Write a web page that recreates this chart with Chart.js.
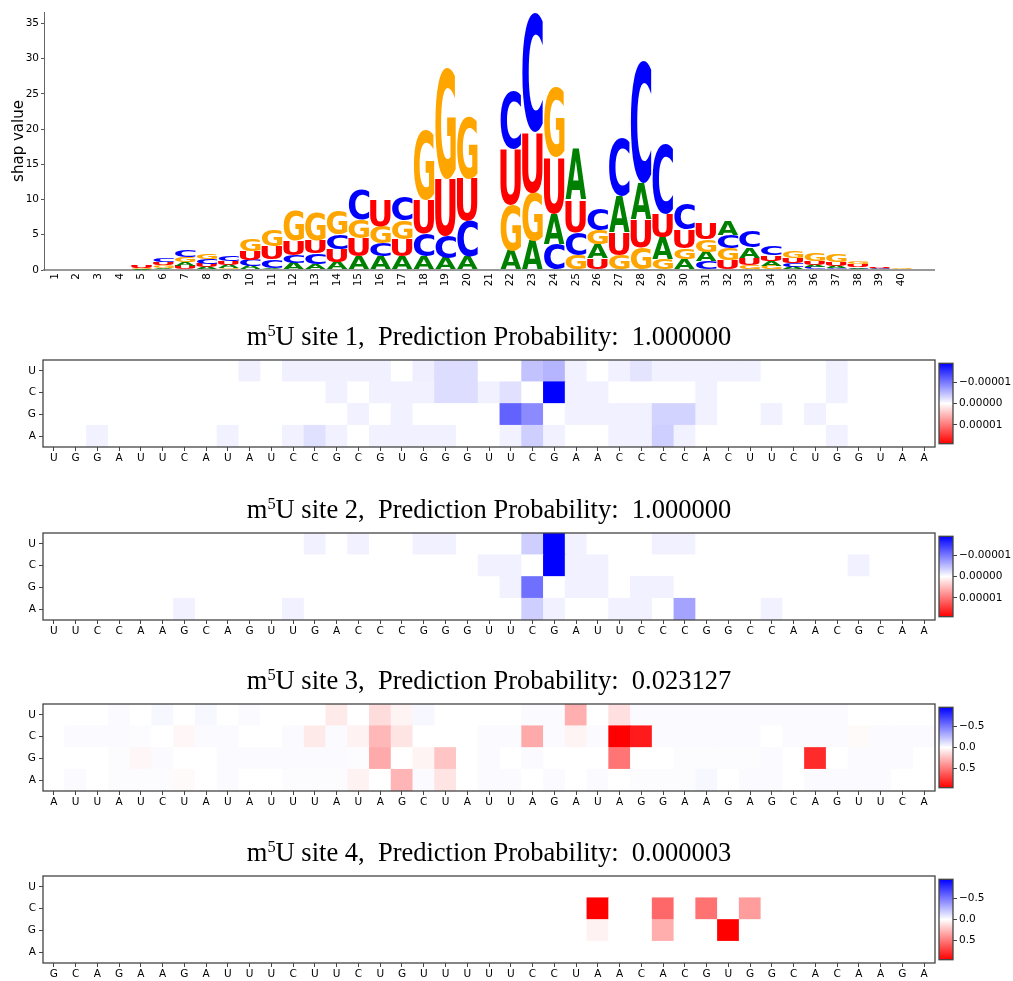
<!DOCTYPE html>
<html lang="en">

<head>
    <meta charset="UTF-8" />
    <title>m5U site SHAP</title>
    <script src="https://cdn.jsdelivr.net/npm/chart.js"></script>
    <style>
        body { margin: 0; background: #fff; }
        #wrap { position: relative; width: 1013px; height: 981px; }
        canvas { position: absolute; }
    </style>
</head>

<body>
    <div id="wrap">
        <canvas id="logo"></canvas>
        <canvas id="hm1"></canvas><canvas id="cb1"></canvas>
        <canvas id="hm2"></canvas><canvas id="cb2"></canvas>
        <canvas id="hm3"></canvas><canvas id="cb3"></canvas>
        <canvas id="hm4"></canvas><canvas id="cb4"></canvas>
    </div>

    <script>
        // ---- sequence logo (shap value per nucleotide, positions 1..41) ----
        var posLabels = ['1', '2', '3', '4', '5', '6', '7', '8', '9', '10', '11', '12', '13', '14', '15', '16', '17', '18', '19', '20',
            '21', '22', '23', '24', '25', '26', '27', '28', '29', '30', '31', '32', '33', '34', '35', '36', '37', '38', '39', '40', ''];
        var logoTicks = [0, 5, 10, 15, 20, 25, 30, 35];
        var logoA = [.02, .06, .05, .02, .08, .30, .60, .40, .45, .55, .30, .95, .85, 1.10, 1.90, 1.90, 1.90, 1.90, 1.65, 1.90,
            0, 2.80, 4.15, 4.35, 7.30, 1.95, 5.30, 5.20, 3.20, 1.55, 1.40, 2.10, 1.55, 0.70, 0.40, 0.38, 0.32, 0.25, 0.10, 0.03, 0];
        var logoC = [.02, .03, .06, .02, .05, .55, .95, .70, .75, .90, 1.20, 1.20, 1.50, 2.00, 4.15, 1.95, 3.40, 3.30, 3.20, 5.10,
            0, 8.25, 17.00, 3.70, 3.30, 3.00, 8.20, 17.30, 9.90, 3.70, 1.20, 1.90, 2.30, 1.30, 0.55, 0.35, 0.30, 0.20, 0.15, 0.03, 0];
        var logoG = [.03, .04, .02, .03, .18, .35, .65, .80, .30, 1.75, 2.25, 4.25, 4.00, 3.40, 2.75, 2.40, 2.65, 10.00, 15.80, 8.90,
            0, 6.50, 6.85, 9.90, 2.10, 2.00, 2.10, 3.20, 1.50, 1.60, 1.75, 1.65, 0.70, 0.60, 0.85, 1.05, 1.20, 0.40, 0.10, 0.08, 0];
        var logoU = [.02, .03, .04, .03, .35, .45, .55, .50, .55, 1.25, 1.85, 2.00, 1.80, 1.90, 2.60, 3.70, 2.45, 4.70, 8.20, 6.00,
            0, 7.90, 8.60, 8.00, 4.60, 1.65, 3.20, 4.00, 3.30, 2.55, 2.20, 1.40, 0.95, 0.80, 0.75, 0.60, 0.50, 0.35, 0.20, 0.05, 0];

        // ---- heatmaps: sequences and shap values per row ----
        var seq1 = 'UGGAUUCAUAUCCGCGUGGGUUCGAACCCCACUUCUGGUAA'.split('');
        var seq2 = 'UUCCAAGCAGUUGACCCGGGUUCGAUUCCCGGCCAACGCAA'.split('');
        var seq3 = 'AUUAUCUAUAUUUAUAGCUAUUAGAUAGGAAGAGCAGUUCA'.split('');
        var seq4 = 'GCAGAAGAUUUCUUCUGUUUUUCCUAACACGUGGCACAAGA'.split('');

        // site 1 and 2 values are in units of 1e-6
        var hm1U = [0, 0, 0, 0, 0, 0, 0, 0, 0, -1.1, 0, -1.1, -1.1, -1.1, -1.1, -1.1, 0, -1.2, -2.5, -2.5,
            0, 0, -4.5, -5.5, -1.0, 0, -1.0, -2.0, -1.0, -1.0, -1.0, -1.0, -1.0, 0, 0, 0, -1.0, 0, 0, 0, 0];
        var hm1C = [0, 0, 0, 0, 0, 0, 0, 0, 0, 0, 0, 0, 0, -1.0, 0, -1.0, -1.0, -1.0, -2.5, -2.5,
            -1.0, -2.2, 0, -19, -1.0, -1.0, 0, 0, 0, 0, -1.0, 0, 0, 0, 0, 0, -1.0, 0, 0, 0, 0];
        var hm1G = [0, 0, 0, 0, 0, 0, 0, 0, 0, 0, 0, 0, 0, 0, -1.0, 0, -1.0, 0, 0, 0,
            0, -11.5, -8.5, 0, -1.0, -1.0, -1.0, -1.0, -3.2, -3.2, -1.0, 0, 0, -1.0, 0, -1.0, 0, 0, 0, 0, 0];
        var hm1A = [0, 0, -1.0, 0, 0, 0, 0, 0, -1.0, 0, 0, -1.0, -2.3, -1.0, 0, -1.0, -1.0, -1.0, -1.0, 0,
            0, -1.0, -3.5, -1.0, 0, 0, -1.0, -1.0, -3.5, -1.0, 0, 0, 0, 0, 0, 0, -1.0, 0, 0, 0, 0];

        var hm2U = [0, 0, 0, 0, 0, 0, 0, 0, 0, 0, 0, 0, -1.0, 0, -1.0, 0, 0, -1.0, -1.0, 0,
            0, 0, -3.5, -19, -1.0, 0, 0, 0, -1.0, -1.0, 0, 0, 0, 0, 0, 0, 0, 0, 0, 0, 0];
        var hm2C = [0, 0, 0, 0, 0, 0, 0, 0, 0, 0, 0, 0, 0, 0, 0, 0, 0, 0, 0, 0,
            -1.0, -1.0, 0, -19, -1.0, -1.0, 0, 0, 0, 0, 0, 0, 0, 0, 0, 0, 0, -1.0, 0, 0, 0];
        var hm2G = [0, 0, 0, 0, 0, 0, 0, 0, 0, 0, 0, 0, 0, 0, 0, 0, 0, 0, 0, 0,
            0, -1.0, -10.5, 0, -1.0, -1.0, 0, -1.0, -1.0, 0, 0, 0, 0, 0, 0, 0, 0, 0, 0, 0, 0];
        var hm2A = [0, 0, 0, 0, 0, 0, -1.0, 0, 0, 0, 0, -1.0, 0, 0, 0, 0, 0, 0, 0, 0,
            0, 0, -3.5, -1.0, 0, 0, -1.0, -1.0, 0, -6.7, 0, 0, 0, -1.0, 0, 0, 0, 0, 0, 0, 0];

        var hm3U = [0, 0, 0, -0.02, 0, -0.03, 0, -0.03, 0, -0.02, 0, 0, 0, 0.08, 0, 0.13, 0.04, -0.03, 0, 0,
            0, 0, -0.02, -0.02, 0.30, 0, 0.12, -0.02, -0.02, -0.02, -0.02, -0.02, -0.02, -0.02, -0.02, -0.02, -0.02, 0, 0, 0, 0];
        var hm3C = [0, -0.02, -0.02, -0.02, -0.01, 0, 0.03, -0.02, -0.02, 0, 0, -0.02, 0.08, -0.02, 0.05, 0.27, 0.10, 0, 0, 0,
            -0.02, -0.02, 0.32, -0.02, 0.04, -0.02, 0.96, 0.86, -0.02, -0.02, -0.02, -0.02, -0.02, 0, -0.02, -0.02, -0.02, 0.02, -0.02, -0.02, -0.02];
        var hm3G = [0, 0, 0, -0.01, 0.03, -0.02, 0, 0, -0.02, -0.02, -0.02, -0.02, -0.02, -0.02, -0.01, 0.32, 0, 0.04, 0.22, 0,
            -0.02, 0, -0.02, 0, 0, 0, 0.52, 0, 0, -0.01, -0.01, -0.01, -0.01, -0.02, 0, 0.80, 0, -0.02, -0.02, -0.02, 0];
        var hm3A = [0, -0.02, 0, -0.01, -0.01, -0.01, 0.02, 0, -0.02, 0, 0, -0.01, -0.01, -0.01, 0.05, 0, 0.28, -0.02, 0.10, 0,
            -0.02, -0.02, 0, -0.02, 0, -0.02, 0, -0.01, -0.01, -0.01, -0.03, 0, -0.02, -0.02, 0, -0.02, -0.02, -0.02, -0.02, 0, 0];

        var hm4U = [0, 0, 0, 0, 0, 0, 0, 0, 0, 0, 0, 0, 0, 0, 0, 0, 0, 0, 0, 0,
            0, 0, 0, 0, 0, 0, 0, 0, 0, 0, 0, 0, 0, 0, 0, 0, 0, 0, 0, 0, 0];
        var hm4C = [0, 0, 0, 0, 0, 0, 0, 0, 0, 0, 0, 0, 0, 0, 0, 0, 0, 0, 0, 0,
            0, 0, 0, 0, 0, 0.96, 0, 0, 0.57, 0, 0.53, 0, 0.37, 0, 0, 0, 0, 0, 0, 0, 0];
        var hm4G = [0, 0, 0, 0, 0, 0, 0, 0, 0, 0, 0, 0, 0, 0, 0, 0, 0, 0, 0, 0,
            0, 0, 0, 0, 0, 0.05, 0, 0, 0.31, 0, 0, 0.96, 0, 0, 0, 0, 0, 0, 0, 0, 0];
        var hm4A = [0, 0, 0, 0, 0, 0, 0, 0, 0, 0, 0, 0, 0, 0, 0, 0, 0, 0, 0, 0,
            0, 0, 0, 0, 0, 0, 0, 0, 0, 0, 0, 0, 0, 0, 0, 0, 0, 0, 0, 0, 0];

        var probs = ['1.000000', '1.000000', '0.023127', '0.000003'];

        Chart.defaults.font.family = '"DejaVu Sans"';
        Chart.defaults.color = '#000';
        Chart.defaults.animation = false;
        Chart.defaults.responsive = false;
        Chart.defaults.devicePixelRatio = 1;
        Chart.defaults.events = [];
        Chart.defaults.plugins.legend.display = false;
        Chart.defaults.plugins.tooltip.enabled = false;

        var letterColors = { A: '#008000', C: '#0000ff', G: '#ffa500', U: '#ff0000' };

        function place(id, left, top, w, h) {
            var c = document.getElementById(id);
            c.width = w;
            c.height = h;
            c.style.left = left + 'px';
            c.style.top = top + 'px';
            return c;
        }

        // glyph stretched to fill the bar rectangle
        function drawLetter(ctx, letter, color, x, y, w, h) {
            ctx.save();
            ctx.font = 'bold 100px "DejaVu Sans"';
            ctx.textAlign = 'left';
            ctx.textBaseline = 'alphabetic';
            var m = ctx.measureText(letter);
            var gw = m.actualBoundingBoxLeft + m.actualBoundingBoxRight;
            var gh = m.actualBoundingBoxAscent + m.actualBoundingBoxDescent;
            ctx.translate(x, y);
            ctx.scale(w / gw, h / gh);
            ctx.fillStyle = color;
            ctx.fillText(letter, m.actualBoundingBoxLeft, m.actualBoundingBoxAscent);
            ctx.restore();
        }

        var lettersPlugin = {
            id: 'letters',
            afterDatasetsDraw: function (chart) {
                var ctx = chart.ctx;
                chart.data.datasets.forEach(function (ds, i) {
                    chart.getDatasetMeta(i).data.forEach(function (bar, j) {
                        var p = bar.getProps(['x', 'y', 'base', 'width'], true);
                        var h = p.base - p.y;
                        if (h <= 0.05) return;
                        drawLetter(ctx, ds.letters[j], letterColors[ds.letters[j]], p.x - p.width / 2, p.y, p.width, h);
                    });
                });
            }
        };

        function drawLogo() {
            var canvas = place('logo', 0, 0, 960, 300);
            var byLetter = { A: logoA, C: logoC, G: logoG, U: logoU };
            var ranks = [[], [], [], []];
            posLabels.forEach(function (lab, j) {
                var col = ['A', 'C', 'G', 'U'].map(function (l) { return { l: l, v: byLetter[l][j] }; });
                col.sort(function (a, b) { return a.v - b.v; });
                col.forEach(function (c, k) { ranks[k].push(c); });
            });
            var datasets = ranks.map(function (r) {
                return {
                    data: r.map(function (c) { return c.v; }),
                    letters: r.map(function (c) { return c.l; }),
                    backgroundColor: 'rgba(0,0,0,0)',
                    borderWidth: 0,
                    barPercentage: 0.95,
                    categoryPercentage: 1
                };
            });
            new Chart(canvas, {
                type: 'bar',
                data: { labels: posLabels, datasets: datasets },
                options: {
                    layout: { padding: { top: 12, right: 26 } },
                    scales: {
                        x: {
                            stacked: true,
                            grid: { display: false, drawTicks: false },
                            border: { color: '#999', width: 2 },
                            ticks: { autoSkip: false, minRotation: 90, maxRotation: 90, padding: 3, font: { size: 10.5 } },
                            afterFit: function (s) { s.height = 30; }
                        },
                        y: {
                            stacked: true,
                            min: 0,
                            max: 36.6,
                            afterBuildTicks: function (s) {
                                s.ticks = logoTicks.map(function (v) { return { value: v }; });
                            },
                            ticks: { padding: 2, font: { size: 10.5 } },
                            grid: { drawOnChartArea: false, tickLength: 3, color: '#555' },
                            border: { color: '#666', width: 1 },
                            title: { display: true, text: 'shap value', font: { size: 15 }, padding: { top: 10, bottom: 0 } },
                            afterFit: function (s) { s.width = 44; }
                        }
                    }
                },
                plugins: [lettersPlugin]
            });
        }

        function bwr(v, vmax) {
            var t = Math.max(-1, Math.min(1, v / vmax));
            var c;
            if (t < 0) {
                c = Math.round(255 * (1 + t));
                return 'rgb(' + c + ',' + c + ',255)';
            }
            c = Math.round(255 * (1 - t));
            return 'rgb(255,' + c + ',' + c + ')';
        }

        var framePlugin = {
            id: 'frame',
            afterDraw: function (chart) {
                var a = chart.chartArea;
                var ctx = chart.ctx;
                ctx.save();
                ctx.strokeStyle = '#444';
                ctx.lineWidth = 1.3;
                ctx.strokeRect(a.left, a.top, a.right - a.left, a.bottom - a.top);
                ctx.restore();
            }
        };

        // title "m^5U site n, ..." with a raised 5
        var titlePlugin = {
            id: 'siteTitle',
            afterDraw: function (chart, args, opts) {
                if (!opts.parts) return;
                var a = chart.chartArea;
                var ctx = chart.ctx;
                var size = 26.5;
                ctx.save();
                ctx.fillStyle = '#000';
                ctx.textAlign = 'left';
                ctx.textBaseline = 'alphabetic';
                var total = 0;
                opts.parts.forEach(function (p) {
                    ctx.font = (size * p.scale) + 'px "Liberation Serif"';
                    p.w = ctx.measureText(p.text).width;
                    total += p.w;
                });
                var x = (a.left + a.right) / 2 - total / 2;
                var y = a.top - 15;
                opts.parts.forEach(function (p) {
                    ctx.font = (size * p.scale) + 'px "Liberation Serif"';
                    ctx.fillText(p.text, x, y - p.raise);
                    x += p.w;
                });
                ctx.restore();
            }
        };

        function drawHeatmap(n, top, seq, rows, vmax, cbTicks, cbFormat) {
            var rowNames = ['A', 'G', 'C', 'U'];
            var canvas = place('hm' + n, 0, top - 40, 978, 155);
            var datasets = rowNames.map(function (r, i) {
                return {
                    label: r,
                    data: rows[r].map(function () { return [i, i + 1]; }),
                    backgroundColor: rows[r].map(function (v) { return bwr(v, vmax); }),
                    borderWidth: 0,
                    barPercentage: 1,
                    categoryPercentage: 1
                };
            });
            var parts = [
                { text: 'm', scale: 1, raise: 0 },
                { text: '5', scale: 0.62, raise: 9 },
                { text: 'U site ' + n + ',  Prediction Probability:  ' + probs[n - 1], scale: 1, raise: 0 }
            ];
            new Chart(canvas, {
                type: 'bar',
                data: { labels: seq, datasets: datasets },
                options: {
                    layout: { padding: { top: 40, right: 43 } },
                    plugins: { siteTitle: { parts: parts } },
                    scales: {
                        x: {
                            stacked: true,
                            grid: { offset: false, drawOnChartArea: false, tickLength: 4, color: '#444' },
                            border: { display: false },
                            ticks: { autoSkip: false, maxRotation: 0, padding: 1, font: { size: 10.5 } },
                            afterFit: function (s) { s.height = 28; }
                        },
                        y: {
                            min: 0,
                            max: 4,
                            afterBuildTicks: function (s) {
                                s.ticks = [0.5, 1.5, 2.5, 3.5].map(function (v) { return { value: v }; });
                            },
                            ticks: {
                                padding: 3,
                                font: { size: 10.5 },
                                callback: function (v) { return rowNames[Math.floor(v)]; }
                            },
                            grid: { drawOnChartArea: false, tickLength: 4, color: '#444' },
                            border: { display: false },
                            afterFit: function (s) { s.width = 43; }
                        }
                    }
                },
                plugins: [framePlugin, titlePlugin]
            });

            // colour bar
            var cb = place('cb' + n, 930, top - 5, 83, 97);
            new Chart(cb, {
                type: 'bar',
                data: {
                    labels: [''],
                    datasets: [{
                        data: [[-vmax, vmax]],
                        borderWidth: 0,
                        barPercentage: 1,
                        categoryPercentage: 1,
                        backgroundColor: function (c) {
                            var a = c.chart.chartArea;
                            if (!a) return '#fff';
                            var g = c.chart.ctx.createLinearGradient(0, a.top, 0, a.bottom);
                            g.addColorStop(0, 'rgb(0,0,255)');
                            g.addColorStop(0.5, 'rgb(255,255,255)');
                            g.addColorStop(1, 'rgb(255,0,0)');
                            return g;
                        }
                    }]
                },
                options: {
                    layout: { padding: { left: 9, top: 5, bottom: 5 } },
                    scales: {
                        x: { display: false },
                        y: {
                            position: 'right',
                            reverse: true,
                            min: -vmax,
                            max: vmax,
                            afterBuildTicks: function (s) {
                                s.ticks = cbTicks.map(function (v) { return { value: v }; });
                            },
                            ticks: { padding: 2, font: { size: 10.5 }, callback: cbFormat },
                            grid: { drawOnChartArea: false, tickLength: 4, color: '#444' },
                            border: { display: false },
                            afterFit: function (s) { s.width = 60; }
                        }
                    }
                },
                plugins: [framePlugin]
            });
        }

        function fmtMicro(v) {
            var s = (Math.abs(v) * 1e-6).toFixed(5);
            return v < 0 ? '\u2212' + s : s;
        }
        function fmtUnit(v) {
            var s = Math.abs(v).toFixed(1);
            return v < 0 ? '\u2212' + s : s;
        }

        drawLogo();
        drawHeatmap(1, 360, seq1, { U: hm1U, C: hm1C, G: hm1G, A: hm1A }, 18.7, [-10, 0, 10], fmtMicro);
        drawHeatmap(2, 533, seq2, { U: hm2U, C: hm2C, G: hm2G, A: hm2A }, 18.7, [-10, 0, 10], fmtMicro);
        drawHeatmap(3, 704, seq3, { U: hm3U, C: hm3C, G: hm3G, A: hm3A }, 0.96, [-0.5, 0, 0.5], fmtUnit);
        drawHeatmap(4, 876, seq4, { U: hm4U, C: hm4C, G: hm4G, A: hm4A }, 0.96, [-0.5, 0, 0.5], fmtUnit);
    </script>
</body>

</html>
